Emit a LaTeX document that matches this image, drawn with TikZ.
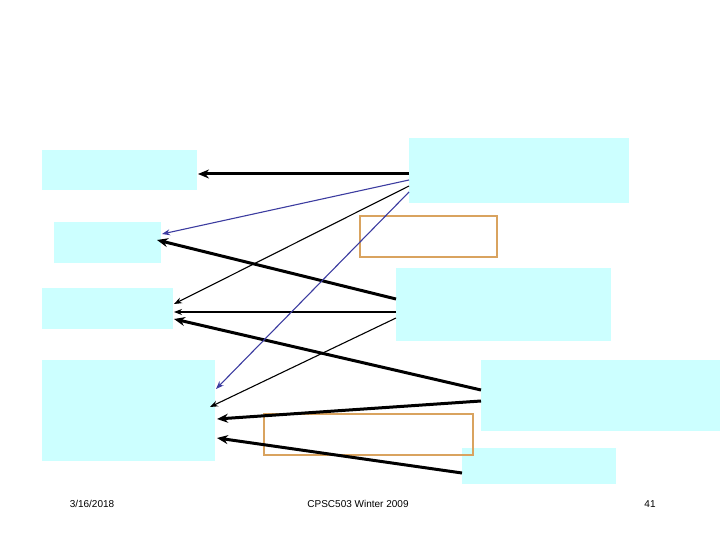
\documentclass[tikz,border=0pt]{standalone}
\usepackage{fontspec}
\setmainfont{Liberation Sans}
\usetikzlibrary{arrows.meta}
\definecolor{cy}{HTML}{CCFFFF}
\definecolor{orb}{HTML}{D9A35F}
\definecolor{bl}{HTML}{3C3CA0}
\begin{document}
\begin{tikzpicture}[x=1pt,y=-1pt,
  bx/.style={fill=cy,draw=none},
  ob/.style={draw=orb,line width=1.5pt},
  thk/.style={line width=3pt,-{Stealth[length=11pt,width=9pt]}},
  thn/.style={line width=1.1pt,-{Stealth[length=8pt,width=6pt]}},
  blu/.style={line width=1.1pt,draw=bl,-{Stealth[length=8pt,width=6pt]},color=bl},
  ft/.style={font=\fontsize{10}{12}\selectfont}]
\useasboundingbox (0,0) rectangle (720,540);
\path[bx] (42,150) rectangle (197,190);
\path[bx] (54,222) rectangle (161,263);
\path[bx] (42,288) rectangle (173,329);
\path[bx] (42,360) rectangle (215,461);
\path[bx] (409,138) rectangle (629,203);
\path[bx] (396,268) rectangle (611,341);
\path[bx] (481,360) rectangle (720,431);
\path[bx] (462,448) rectangle (616,484);
\draw[ob] (360,216) rectangle (497,257);
\draw[ob] (264,414) rectangle (473,455);
\coordinate (e1) at (409,174); \coordinate (a1) at (198,174);
\coordinate (e2) at (409,180); \coordinate (b1) at (162,234);
\coordinate (f1) at (396,299); \coordinate (b2) at (157,240);
\coordinate (e3) at (409,186); \coordinate (c1) at (174,304);
\coordinate (f2) at (396,312); \coordinate (c2) at (174,312);
\coordinate (g1) at (481,390); \coordinate (c3) at (174,319);
\coordinate (e4) at (409,192); \coordinate (d1) at (216,389);
\coordinate (f3) at (396,318); \coordinate (d2) at (210,407);
\coordinate (g2) at (481,401); \coordinate (d3) at (217,419);
\coordinate (h1) at (462,473); \coordinate (d4) at (217,438);
\draw[thk] (e1) -- (a1);
\draw[blu] (e2) -- (b1);
\draw[thk] (f1) -- (b2);
\draw[thn] (e3) -- (c1);
\draw[thn] (f2) -- (c2);
\draw[thk] (g1) -- (c3);
\draw[blu] (e4) -- (d1);
\draw[thn] (f3) -- (d2);
\draw[thk] (g2) -- (d3);
\draw[thk] (h1) -- (d4);
\node[ft] (dt) at (92,504) {3/16/2018};
\node[ft] (cr) at (358,504) {CPSC503 Winter 2009};
\node[ft] (pg) at (650,504) {41};
\end{tikzpicture}
\end{document}
